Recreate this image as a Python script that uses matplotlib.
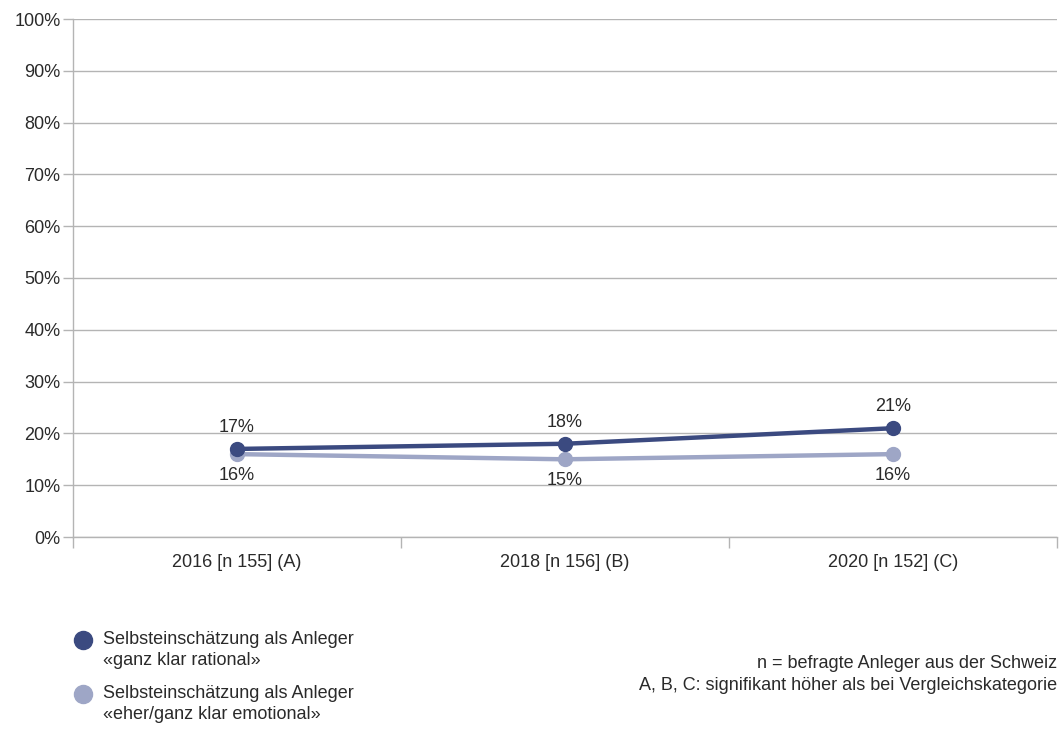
import matplotlib.pyplot as plt
from matplotlib.lines import Line2D

plt.rcParams['font.family'] = ['Liberation Sans', 'DejaVu Sans']

# data
categories = ['2016 [n 155] (A)', '2018 [n 156] (B)', '2020 [n 152] (C)']
rational = [17, 18, 21]
emotional = [16, 15, 16]
labels = ['Selbsteinschätzung als Anleger\n«ganz klar rational»',
          'Selbsteinschätzung als Anleger\n«eher/ganz klar emotional»']
notes = ['n = befragte Anleger aus der Schweiz',
         'A, B, C: signifikant höher als bei Vergleichskategorie']

dark = '#3b4a80'
light = '#9ea6c6'
grid = '#b4b4b4'
txt = '#2a2a2a'
fs = 13

W, H = 1060, 733
fig = plt.figure(figsize=(W/100, H/100), dpi=100)
ax = fig.add_axes([73/W, 1-537/H, (1057-73)/W, (537-19)/H])

x = list(range(len(categories)))
ax.plot(x, emotional, color=light, lw=3.2, marker='o', ms=10, solid_capstyle='round', zorder=3)
ax.plot(x, rational, color=dark, lw=3.2, marker='o', ms=10, solid_capstyle='round', zorder=4)

for i in x:
    ax.annotate(f'{rational[i]}%', (i, rational[i]), xytext=(0, 15.5), textcoords='offset points',
                ha='center', va='center', fontsize=fs, color=txt)
    ax.annotate(f'{emotional[i]}%', (i, emotional[i]), xytext=(0, -15.5), textcoords='offset points',
                ha='center', va='center', fontsize=fs, color=txt)

ax.set_xlim(-0.5, 2.5)
ax.set_ylim(0, 100)
ax.set_yticks(range(0, 101, 10))
ax.set_yticklabels([f'{v}%' for v in range(0, 101, 10)], fontsize=fs, color=txt)
ax.set_xticks([-0.5, 0.5, 1.5, 2.5])
ax.set_xticklabels([])
ax.set_xticks(x, minor=True)
ax.set_xticklabels(categories, minor=True, fontsize=fs, color=txt)
ax.tick_params(axis='x', which='major', length=8, color=grid, width=1)
ax.tick_params(axis='x', which='minor', length=0, pad=12)
ax.tick_params(axis='y', length=7, color=grid, width=1, pad=2)
ax.grid(axis='y', color=grid, lw=1)
ax.set_axisbelow(True)
for s in ['top', 'right']:
    ax.spines[s].set_visible(False)
for s in ['left', 'bottom']:
    ax.spines[s].set_color(grid)
    ax.spines[s].set_linewidth(1)

# legend drawn by hand: marker next to first line of a two-line label
for k, (lab, col) in enumerate(zip(labels, [dark, light])):
    y0 = 640 + 54 * k
    fig.add_artist(Line2D([83/W], [1-y0/H], transform=fig.transFigure, ls='none',
                          marker='o', ms=13, color=col))
    fig.text(103/W, 1-(y0-9)/H, lab, ha='left', va='top', fontsize=fs, color=txt, linespacing=1.3)

fig.text(1057/W, 1-664/H, notes[0], ha='right', va='center', fontsize=fs, color=txt)
fig.text(1057/W, 1-686/H, notes[1], ha='right', va='center', fontsize=fs, color=txt)

fig.savefig('out.png', dpi=100)
